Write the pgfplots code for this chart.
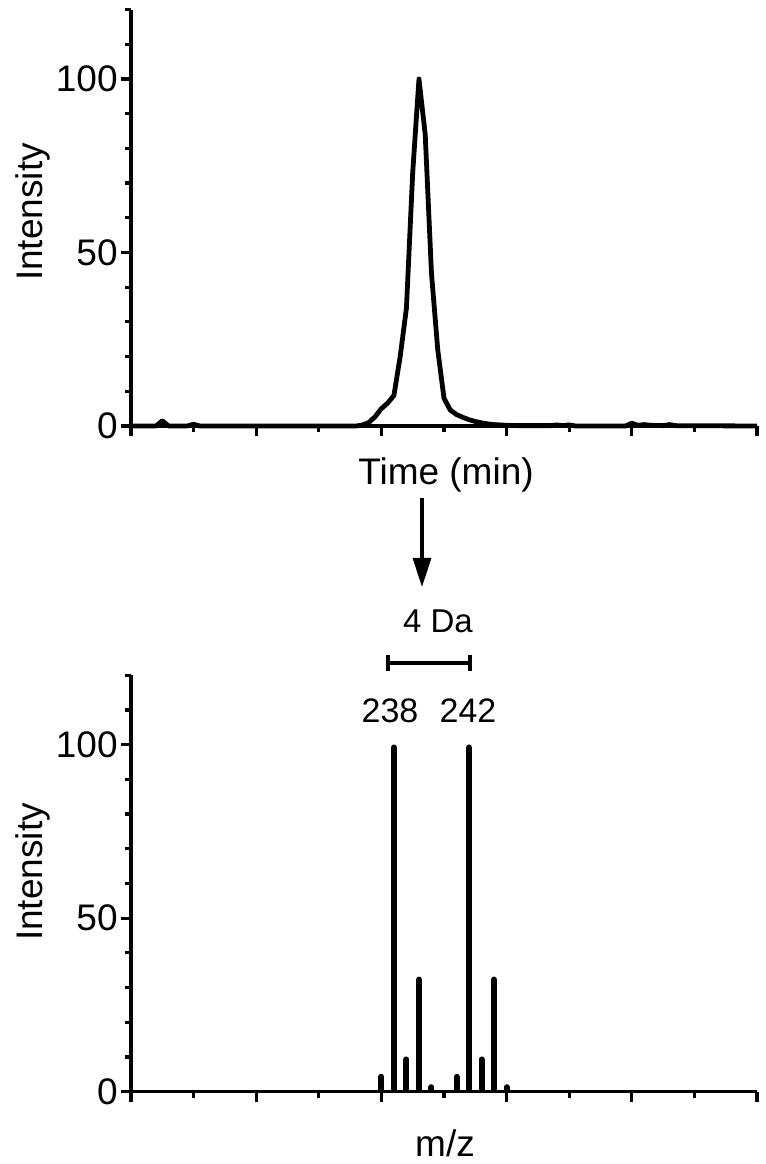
\documentclass[border=0pt]{standalone}
\usepackage{fontspec}
\setmainfont{Liberation Sans}
\usepackage{pgfplots}
\usepackage{pgfplotstable}
\pgfplotsset{compat=1.18}
\usetikzlibrary{arrows.meta}

\pgfplotstableread{
x y
0 0
0.4 0
0.5 1.5
0.6 0
0.9 0
1.0 0.5
1.1 0
3.6 0
3.7 0.3
3.8 1.0
3.9 2.7
4.0 5.0
4.1 6.6
4.2 8.8
4.3 20
4.4 34
4.5 73
4.6 100
4.7 84
4.8 44
4.9 22
5.0 8
5.1 4.6
5.2 3.3
5.3 2.5
5.4 1.8
5.5 1.3
5.6 0.9
5.7 0.6
5.8 0.4
5.9 0.3
6.0 0.2
6.2 0.1
6.7 0.1
6.8 0.3
6.9 0.1
7.0 0.3
7.1 0
7.9 0
8.0 0.8
8.1 0.2
8.2 0.4
8.3 0.2
8.5 0.1
8.6 0.4
8.7 0.1
10 0
}\chrom

\pgfplotstableread{
x y
4.0 4.3
4.2 99.2
4.4 9.3
4.6 32.3
4.8 1.3
5.2 4.3
5.4 99.2
5.6 9.3
5.8 32.3
6.0 1.3
}\spec

\pgfplotsset{myaxis/.style={
  width=313pt, height=208.2pt, scale only axis,
  xmin=0, xmax=10, ymin=0, ymax=120,
  axis lines=left, axis line style={-, line width=1.6pt},
  xtick={0,2,...,10}, minor xtick={1,3,...,9}, xticklabels={},
  ytick={0,50,100}, minor ytick={10,20,30,40,60,70,80,90,110,120},
  tick align=outside, major tick length=5pt, minor tick length=3pt,
  tick style={black, line width=1.6pt},
  yticklabel style={font=\fontsize{18.5}{18.5}\selectfont, inner sep=1.5pt},
  /pgf/number format/assume math mode=true,
  anchor=south west,
}}

\begin{document}
\begin{tikzpicture}[x=1pt,y=1pt]
\path[use as bounding box] (0,0) rectangle (383,582);
\begin{axis}[myaxis, clip=false, at={(65.5pt,369pt)}]
\addplot[black, line width=2.4pt, line join=round] table {\chrom};
\end{axis}
\begin{axis}[myaxis, clip=true, at={(65.5pt,36.15pt)}]
\addplot[black, line width=3pt, line cap=round, ycomb, no marks] table {\spec};
\end{axis}
\node[rotate=90, font=\fontsize{18.5}{18.5}\selectfont] at (16.5,476) {Intensity};
\node[rotate=90, font=\fontsize{18.5}{18.5}\selectfont] at (16.5,146) {Intensity};
\node[anchor=base, font=\fontsize{18.5}{18.5}\selectfont] at (223,339.5) {Time (min)};
\node[anchor=base, font=\fontsize{18.5}{18.5}\selectfont] at (222.5,4) {m/z};
\draw[line width=1.6pt, -{Triangle[length=14.5pt,width=9pt]}] (211,333) -- (211,288.5);
\node[anchor=base, font=\fontsize{16.5}{16.5}\selectfont] at (219,265.5) {4 Da};
\draw[line width=1.8pt] (194,250.5) -- (235,250.5);
\draw[line width=1.8pt] (194,246.5) -- (194,254.5);
\draw[line width=1.8pt] (235,246.5) -- (235,254.5);
\node[anchor=base, font=\fontsize{17}{17}\selectfont] at (195,220.5) {238};
\node[anchor=base, font=\fontsize{17}{17}\selectfont] at (234,220.5) {242};
\end{tikzpicture}
\end{document}
